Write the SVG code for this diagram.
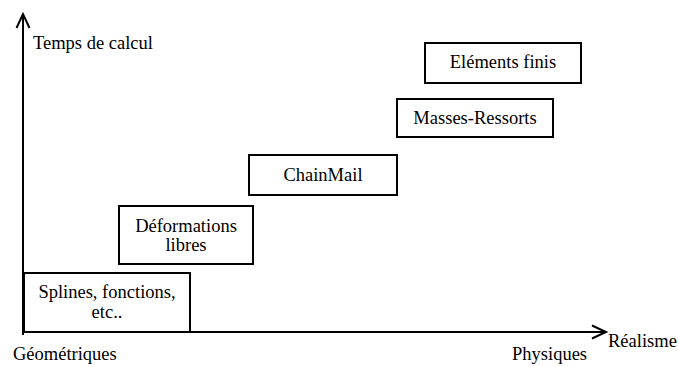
<svg xmlns="http://www.w3.org/2000/svg" width="678" height="367" viewBox="0 0 678 367" font-family="'Liberation Serif', 'Times New Roman', 'DejaVu Serif', serif">
<style>
.box{fill:#fff;stroke:#000;stroke-width:2}
.ax{fill:none;stroke:#000;stroke-width:2}
text{font-family:'Liberation Serif','Times New Roman','DejaVu Serif',serif;font-size:18.5px;fill:#000}
.c{text-anchor:middle}
</style>
<rect width="678" height="367" fill="#fff"/>
<g id="axes">
<line class="ax" x1="23" y1="335" x2="23" y2="14"/>
<polyline class="ax" points="16.5,28 23,14 29.5,28"/>
<line class="ax" x1="22" y1="332" x2="605" y2="332"/>
<polyline class="ax" points="592,325.5 606,332 592,338.5"/>
</g>
<g id="labels">
<text x="33" y="49">Temps de calcul</text>
<text x="13" y="360">Géométriques</text>
<text x="512" y="360">Physiques</text>
<text x="608" y="347">Réalisme</text>
</g>
<g id="node-splines">
<rect class="box" x="24" y="273" width="166" height="59"/>
<text class="c" x="107" y="298">Splines, fonctions,</text>
<text class="c" x="107" y="318">etc..</text>
</g>
<g id="node-deformations">
<rect class="box" x="119" y="206" width="134" height="58"/>
<text class="c" x="186" y="232">Déformations</text>
<text class="c" x="186" y="251">libres</text>
</g>
<g id="node-chainmail">
<rect class="box" x="249" y="155" width="148" height="40"/>
<text class="c" x="323" y="181">ChainMail</text>
</g>
<g id="node-masses">
<rect class="box" x="397" y="99" width="156" height="38"/>
<text class="c" x="475" y="124">Masses-Ressorts</text>
</g>
<g id="node-elements">
<rect class="box" x="425" y="43" width="156" height="40"/>
<text class="c" x="503" y="68">Eléments finis</text>
</g>
</svg>
